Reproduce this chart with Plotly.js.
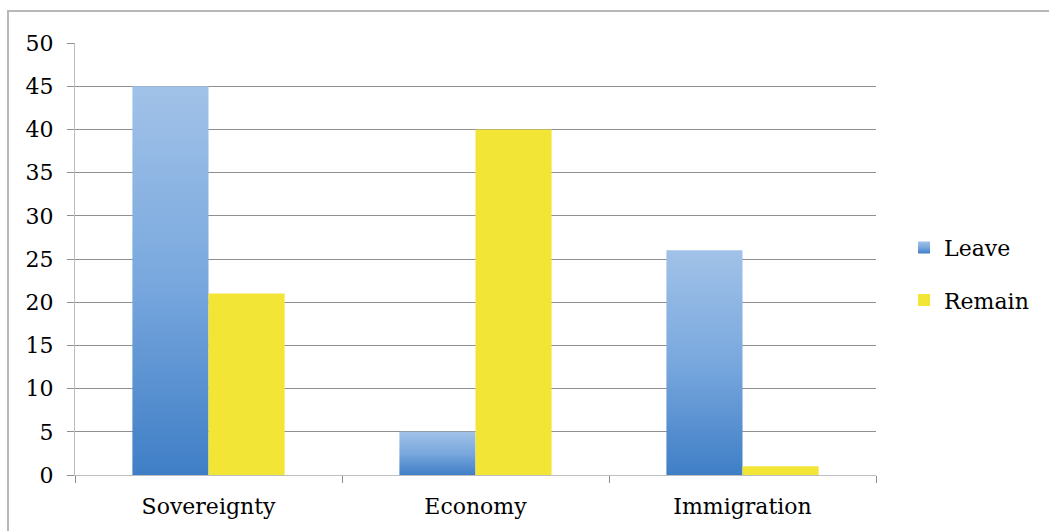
<!DOCTYPE html>
<html>
<head>
<meta charset="utf-8">
<script src="https://cdn.plot.ly/plotly-3.0.1.min.js"></script>
<style>
  html, body { margin: 0; padding: 0; background: #ffffff; }
  #chart { width: 1049px; height: 531px; }
  #frame { position: absolute; left: 7px; top: 10px; width: 1050px; height: 530px;
           border: 2px solid #b8b8b8; pointer-events: none; box-sizing: border-box; }
</style>
</head>
<body>
<div id="chart"></div>
<div id="frame"></div>
<script>
const categories = ["Sovereignty", "Economy", "Immigration"];
const leaveValues = [45, 5, 26];
const remainValues = [21, 40, 1];
const yTicks = [0, 5, 10, 15, 20, 25, 30, 35, 40, 45, 50];

const fontFamily = "'DejaVu Serif', 'Liberation Serif', serif";

const traces = [
  { type: "bar", name: "Leave", x: categories, y: leaveValues,
    marker: { color: "#6a9ad6", line: { width: 0 } }, legendgroup: "a" },
  { type: "bar", name: "Remain", x: categories, y: remainValues,
    marker: { color: "#f3e536", line: { width: 0 } }, legendgroup: "b" }
];

const layout = {
  width: 1049, height: 531,
  margin: { l: 75, r: 173, t: 43, b: 56, autoexpand: false },
  paper_bgcolor: "rgba(0,0,0,0)", plot_bgcolor: "rgba(0,0,0,0)",
  font: { family: fontFamily, size: 22, color: "#000000" },
  barmode: "group", bargap: 0.43, bargroupgap: 0,
  showlegend: true,
  legend: { x: 1.035, xanchor: "left", y: 0.465, yanchor: "middle",
            traceorder: "grouped", tracegroupgap: 21,
            font: { family: fontFamily, size: 22, color: "#000000" },
            itemwidth: 30 },
  xaxis: { type: "category", showgrid: false, showline: true, linecolor: "#bdbdbd", linewidth: 1,
           ticks: "outside", tickson: "boundaries", ticklen: 7, tickcolor: "#8c8c8c",
           ticklabelstandoff: 12,
           tickfont: { family: fontFamily, size: 22, color: "#000000" }, zeroline: false, fixedrange: true },
  yaxis: { range: [0, 50], tickvals: yTicks, ticktext: yTicks.map(String),
           showgrid: true, gridcolor: "#8f8f8f", gridwidth: 1,
           showline: true, linecolor: "#bdbdbd", linewidth: 1,
           ticks: "outside", ticklen: 7, tickcolor: "#8f8f8f",
           ticklabelstandoff: 9,
           zeroline: false, tickfont: { family: fontFamily, size: 22, color: "#000000" }, fixedrange: true }
};

Plotly.newPlot("chart", traces, layout, { displayModeBar: false, staticPlot: true }).then(function (gd) {
  const svg = gd.querySelector("svg.main-svg");
  const ns = "http://www.w3.org/2000/svg";
  let defs = svg.querySelector("defs");
  if (!defs) { defs = document.createElementNS(ns, "defs"); svg.insertBefore(defs, svg.firstChild); }
  const grad = document.createElementNS(ns, "linearGradient");
  grad.setAttribute("id", "leaveGrad");
  grad.setAttribute("x1", "0"); grad.setAttribute("y1", "0");
  grad.setAttribute("x2", "0"); grad.setAttribute("y2", "1");
  [["0", "#a1c2e8"], ["0.5", "#79a8de"], ["1", "#3f7ec6"]].forEach(function (s) {
    const st = document.createElementNS(ns, "stop");
    st.setAttribute("offset", s[0]); st.setAttribute("stop-color", s[1]);
    grad.appendChild(st);
  });
  defs.appendChild(grad);
  const barTraces = gd.querySelectorAll(".barlayer .trace");
  if (barTraces.length) {
    barTraces[0].querySelectorAll("path").forEach(function (p) { p.style.fill = "url(#leaveGrad)"; });
  }
  const legendTraces = gd.querySelectorAll(".legend .traces");
  if (legendTraces.length) {
    legendTraces[0].querySelectorAll(".legendpoints path").forEach(function (p) { p.style.fill = "url(#leaveGrad)"; });
  }
});
</script>
</body>
</html>
